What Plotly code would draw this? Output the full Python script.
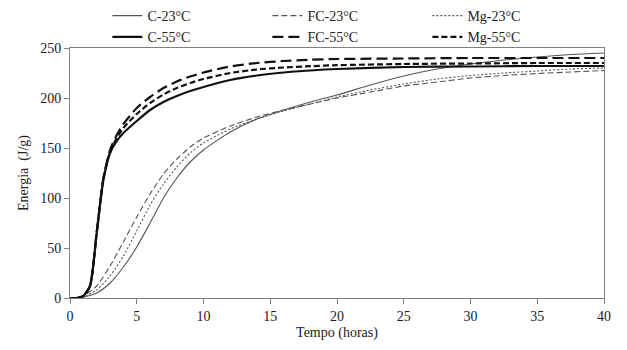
import plotly.graph_objects as go

t_55 = [0, 0.5, 1, 1.5, 2, 2.5, 3, 3.5, 4, 5, 6, 7, 8, 9, 10, 12, 14, 16, 18, 20, 25, 30, 35, 40]
c_55 = [0, 0, 2, 12, 65, 118, 145, 157, 165, 177, 188, 196, 202, 207, 211, 218, 222.5, 225.5, 227.5, 229, 231, 231.5, 232, 232]
fc_55 = [0, 0, 2, 12, 66, 120, 148, 163, 174, 190, 201, 210, 216.5, 221.5, 225.5, 231.5, 235, 237, 238.3, 239, 239.5, 240, 240, 240]
mg_55 = [0, 0, 2, 12, 65, 119, 146, 160, 170, 184, 195, 203.5, 210, 215, 219, 225, 228.5, 230.5, 231.8, 232.8, 234, 234.5, 235, 235]

t_23 = [0, 0.5, 1, 2, 3, 4, 5, 6, 7, 8, 9, 10, 12, 14, 16, 18, 20, 22.5, 25, 27.5, 30, 32.5, 35, 37.5, 40]
c_23 = [0, 0, 1, 5, 15, 31, 51, 75, 100, 120, 136, 148, 166, 179, 188, 196, 203, 213, 222, 229, 234, 238, 241, 243.5, 245]
fc_23 = [0, 0, 2, 12, 32, 56, 81, 104, 124, 139, 151, 160, 172, 181, 188, 194, 200, 206, 212, 216, 220, 222.5, 224.5, 226, 227.5]
mg_23 = [0, 0, 1, 8, 22, 42, 67, 93, 114, 131, 145, 155, 169, 179, 187, 194, 201, 208, 214, 219, 222.5, 225, 227, 229, 230]

series = [
    ("C-23°C", t_23, c_23, "#555555", 1.1, "solid"),
    ("FC-23°C", t_23, fc_23, "#555555", 1.1, "6px,3px"),
    ("Mg-23°C", t_23, mg_23, "#555555", 1.1, "2px,2px"),
    ("C-55°C", t_55, c_55, "#111111", 2.2, "solid"),
    ("FC-55°C", t_55, fc_55, "#111111", 2.2, "11px,5px"),
    ("Mg-55°C", t_55, mg_55, "#111111", 2.2, "6px,3px"),
]

fig = go.Figure()
for name, x, y, col, w, dash in series:
    fig.add_trace(go.Scatter(x=x, y=y, name=name, mode="lines",
                             line=dict(color=col, width=w, dash=dash, shape="spline", smoothing=0.6)))

font = dict(family="Liberation Serif, Times New Roman, serif", size=14, color="#222")
axis_common = dict(showgrid=False, zeroline=False, showline=True, linecolor="#808080", linewidth=1,
                   mirror=True, ticks="outside", ticklen=5, tickcolor="#808080", tickfont=font)

fig.update_layout(
    width=627, height=350,
    margin=dict(l=70, r=23, t=48, b=52, autoexpand=False),
    paper_bgcolor="white", plot_bgcolor="white",
    font=font,
    showlegend=True,
    legend=dict(orientation="h", x=0.07, xanchor="left", y=1.0, yref="container", yanchor="top",
                entrywidth=115, entrywidthmode="pixels", font=font, tracegroupgap=0,
                bgcolor="rgba(0,0,0,0)", itemwidth=30),
    xaxis=dict(range=[0, 40], tickvals=[0, 5, 10, 15, 20, 25, 30, 35, 40],
               title=dict(text="Tempo (horas)", font=font, standoff=4), **axis_common),
    yaxis=dict(range=[0, 250], tickvals=[0, 50, 100, 150, 200, 250],
               title=dict(text="Energia  (J/g)", font=font, standoff=8), **axis_common),
)

fig.write_html("out.html")
